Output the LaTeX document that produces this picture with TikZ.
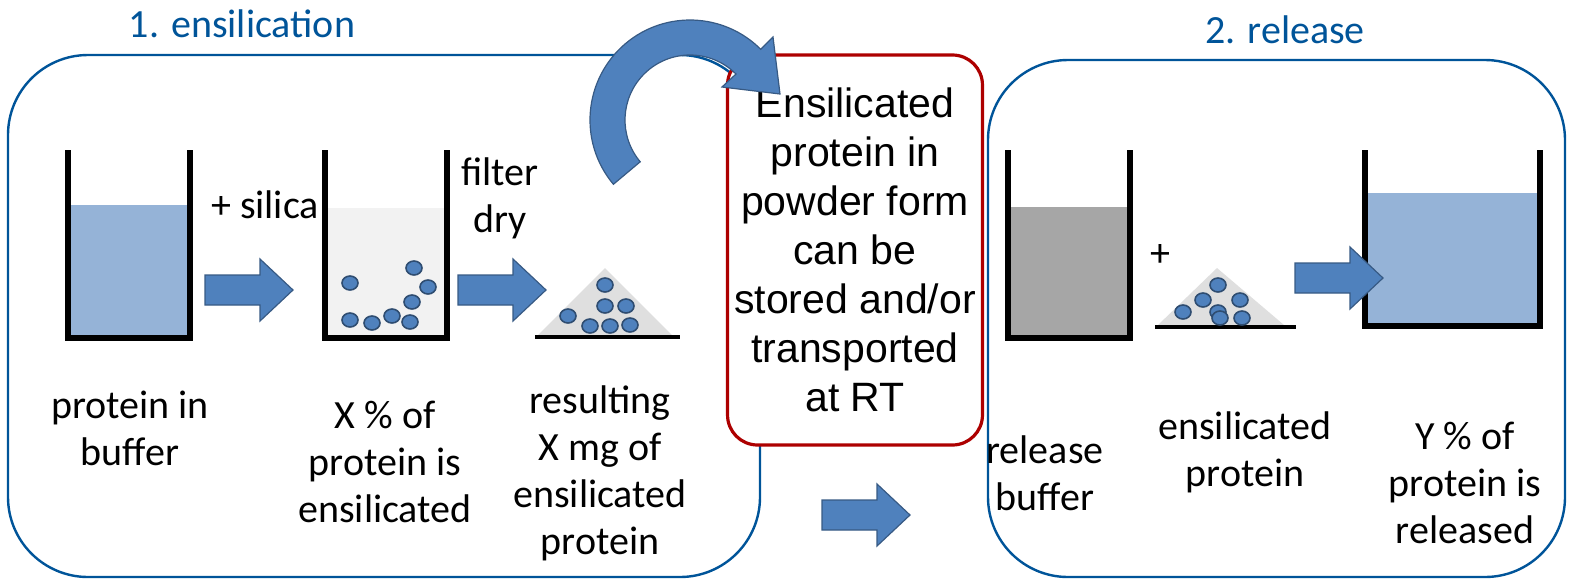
\documentclass[tikz,border=0pt]{standalone}
\usepackage{fontspec}
\usetikzlibrary{calc}
\setmainfont{Carlito}
\newfontfamily\arialf{Liberation Sans}
\begin{document}
\begin{tikzpicture}[x=0.5pt,y=-0.5pt,
  frame/.style={draw=blue!45!cyan!60!black,line width=1.2pt,rounded corners=40pt},
  beaker/.style={draw=black,line width=3pt},
  lbl/.style={font=\fontsize{20pt}{23.5pt}\selectfont,align=center},
  ttl/.style={font=\fontsize{20pt}{24pt}\selectfont,text=blue!45!cyan!60!black}]
\definecolor{lb}{HTML}{95B3D7}
\definecolor{ab}{HTML}{4F81BD}
\tikzset{blk/.style={fill=ab,draw=ab!70!black,line width=0.6pt},part/.style={fill=ab,draw=ab!60!black,line width=0.8pt}}
\useasboundingbox (0,0) rectangle (1575,585);
% frames
\draw[frame] (8,55) rectangle (760,577);
\draw[frame] (988,60) rectangle (1565,577);
\node[ttl] (t1) at (242,24) {1. ensilication};
\node[ttl] (t2) at (1285,30) {2. release};
\node[draw=red!60!black!80!red,line width=1.6pt,rounded corners=15pt,fill=white,minimum width=120pt,minimum height=195pt,
  font=\arialf\fontsize{20.5pt}{24.5pt}\selectfont,align=center] (mid) at (855,250)
  {Ensilicated\\protein in\\powder form\\can be\\stored and/or\\transported\\at RT};
% beakers
\fill[lb] (70,205) rectangle (188,336);
\draw[beaker] (68,150) -- (68,338) -- (190,338) -- (190,150);
\fill[gray!10] (327,208) rectangle (445,336);
\draw[beaker] (325,150) -- (325,338) -- (447,338) -- (447,150);
\fill[gray!70] (1010,207) rectangle (1128,336);
\draw[beaker] (1008,150) -- (1008,338) -- (1130,338) -- (1130,150);
\fill[lb] (1367,193) rectangle (1538,324);
\draw[beaker] (1365,150) -- (1365,326) -- (1540,326) -- (1540,150);
% piles
\fill[gray!25] (605,268) -- (538,335) -- (672,335) -- cycle;
\draw[line width=2pt] (535,337) -- (680,337);
\fill[gray!25] (1217,268) -- (1158,325) -- (1284,325) -- cycle;
\draw[line width=2pt] (1155,327) -- (1296,327);
% particles
\foreach \p in {(350,283),(350,320),(372,323),(392,316),(412,302),(414,268),(428,287),(410,322)}
  \draw[part] \p ellipse (8 and 7);
\foreach \p in {(605,285),(568,316),(590,326),(605,306),(626,306),(630,325),(610,326)}
  \draw[part] \p ellipse (8 and 7);
\foreach \p in {(1218,285),(1183,312),(1203,300),(1218,312),(1240,300),(1242,318),(1220,318)}
  \draw[part] \p ellipse (8 and 7);
% block arrows
\foreach \x/\y in {205/290,458/290,1295/278,822/515}
  \draw[blk] (\x,\y-15) -- (\x+55,\y-15) -- (\x+55,\y-31) -- (\x+88,\y) -- (\x+55,\y+31) -- (\x+55,\y+15) -- (\x,\y+15) -- cycle;
% curved arrow
\coordinate (cc) at (690,120);
\draw[blk] ($(cc)+(140:100)$) arc[start angle=140,end angle=315,radius=100]
  -- (773,37) -- (780,94) -- (722,87) -- ($(cc)+(315:65)$) arc[start angle=315,end angle=140,radius=65] -- cycle;
% labels
\node[lbl] (l1) at (265,205) {+ silica};
\node[lbl] (l2) at (500,198) {filter\\dry};
\node[lbl] (l3) at (130,428) {protein in\\buffer};
\node[lbl] (l4) at (385,462) {X \% of\\protein is\\ensilicated};
\node[lbl] (l5) at (600,473) {resulting\\X mg of\\ensilicated\\protein};
\node[lbl] (l6) at (1160,255) {+};
\node[lbl] (l7) at (1045,473) {release\\buffer};
\node[lbl] (l8) at (1245,452) {ensilicated\\protein};
\node[lbl] (l9) at (1465,483) {Y \% of\\protein is\\released};
\end{tikzpicture}
\end{document}
